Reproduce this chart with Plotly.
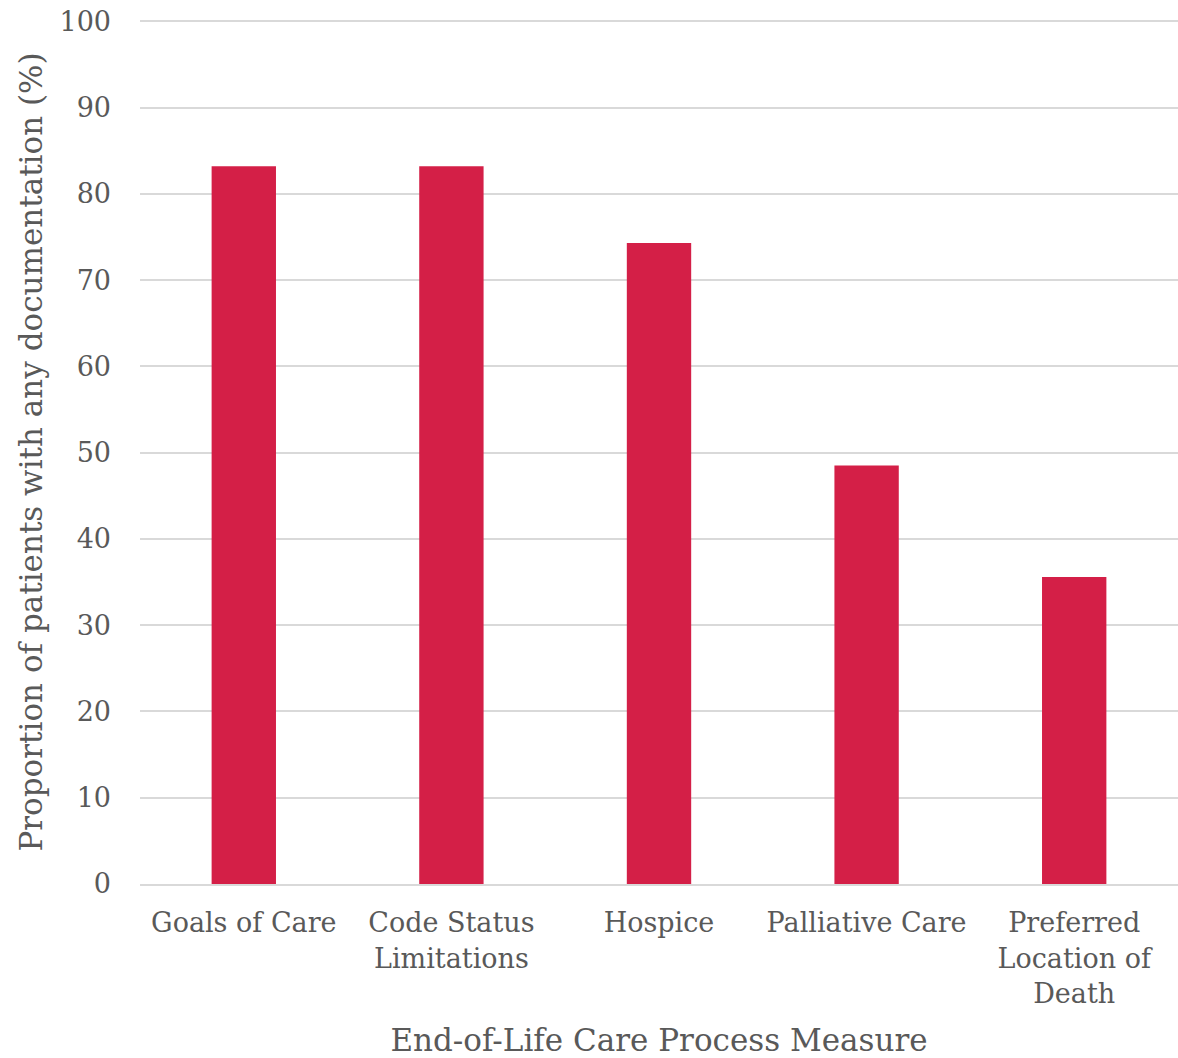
import plotly.graph_objects as go

categories = ["Goals of Care", "Code Status<br>Limitations", "Hospice", "Palliative Care", "Preferred<br>Location of<br>Death"]
values = [83.2, 83.2, 74.3, 48.5, 35.6]
y_ticks = [0, 10, 20, 30, 40, 50, 60, 70, 80, 90, 100]

FONT = "DejaVu Serif"
TXT = "#595959"

fig = go.Figure(go.Bar(x=categories, y=values, marker=dict(color="#D41F47", line=dict(width=0))))

fig.update_layout(
    width=1178, height=1058,
    margin=dict(l=140, r=0, t=20, b=174),
    paper_bgcolor="white", plot_bgcolor="white",
    bargap=0.69,
    font=dict(family=FONT, size=27, color=TXT),
    showlegend=False,
)
fig.update_yaxes(
    range=[0, 100.15], tickvals=y_ticks, ticktext=[str(v) for v in y_ticks],
    showgrid=True, gridcolor="#D9D9D9", gridwidth=2,
    zeroline=False, showline=False, ticks="", ticklabelstandoff=28,
    tickfont=dict(family=FONT, size=27, color=TXT),
    title=dict(text="Proportion of patients with any documentation (%)", font=dict(family=FONT, size=31, color=TXT), standoff=7),
)
fig.update_xaxes(
    showgrid=False, showline=True, linecolor="#D9D9D9", linewidth=2, ticks="",
    tickfont=dict(family=FONT, size=27, color=TXT), ticklabelstandoff=14,
    title=dict(text="End-of-Life Care Process Measure", font=dict(family=FONT, size=31, color=TXT), standoff=22),
)

fig.write_html("out.html")
